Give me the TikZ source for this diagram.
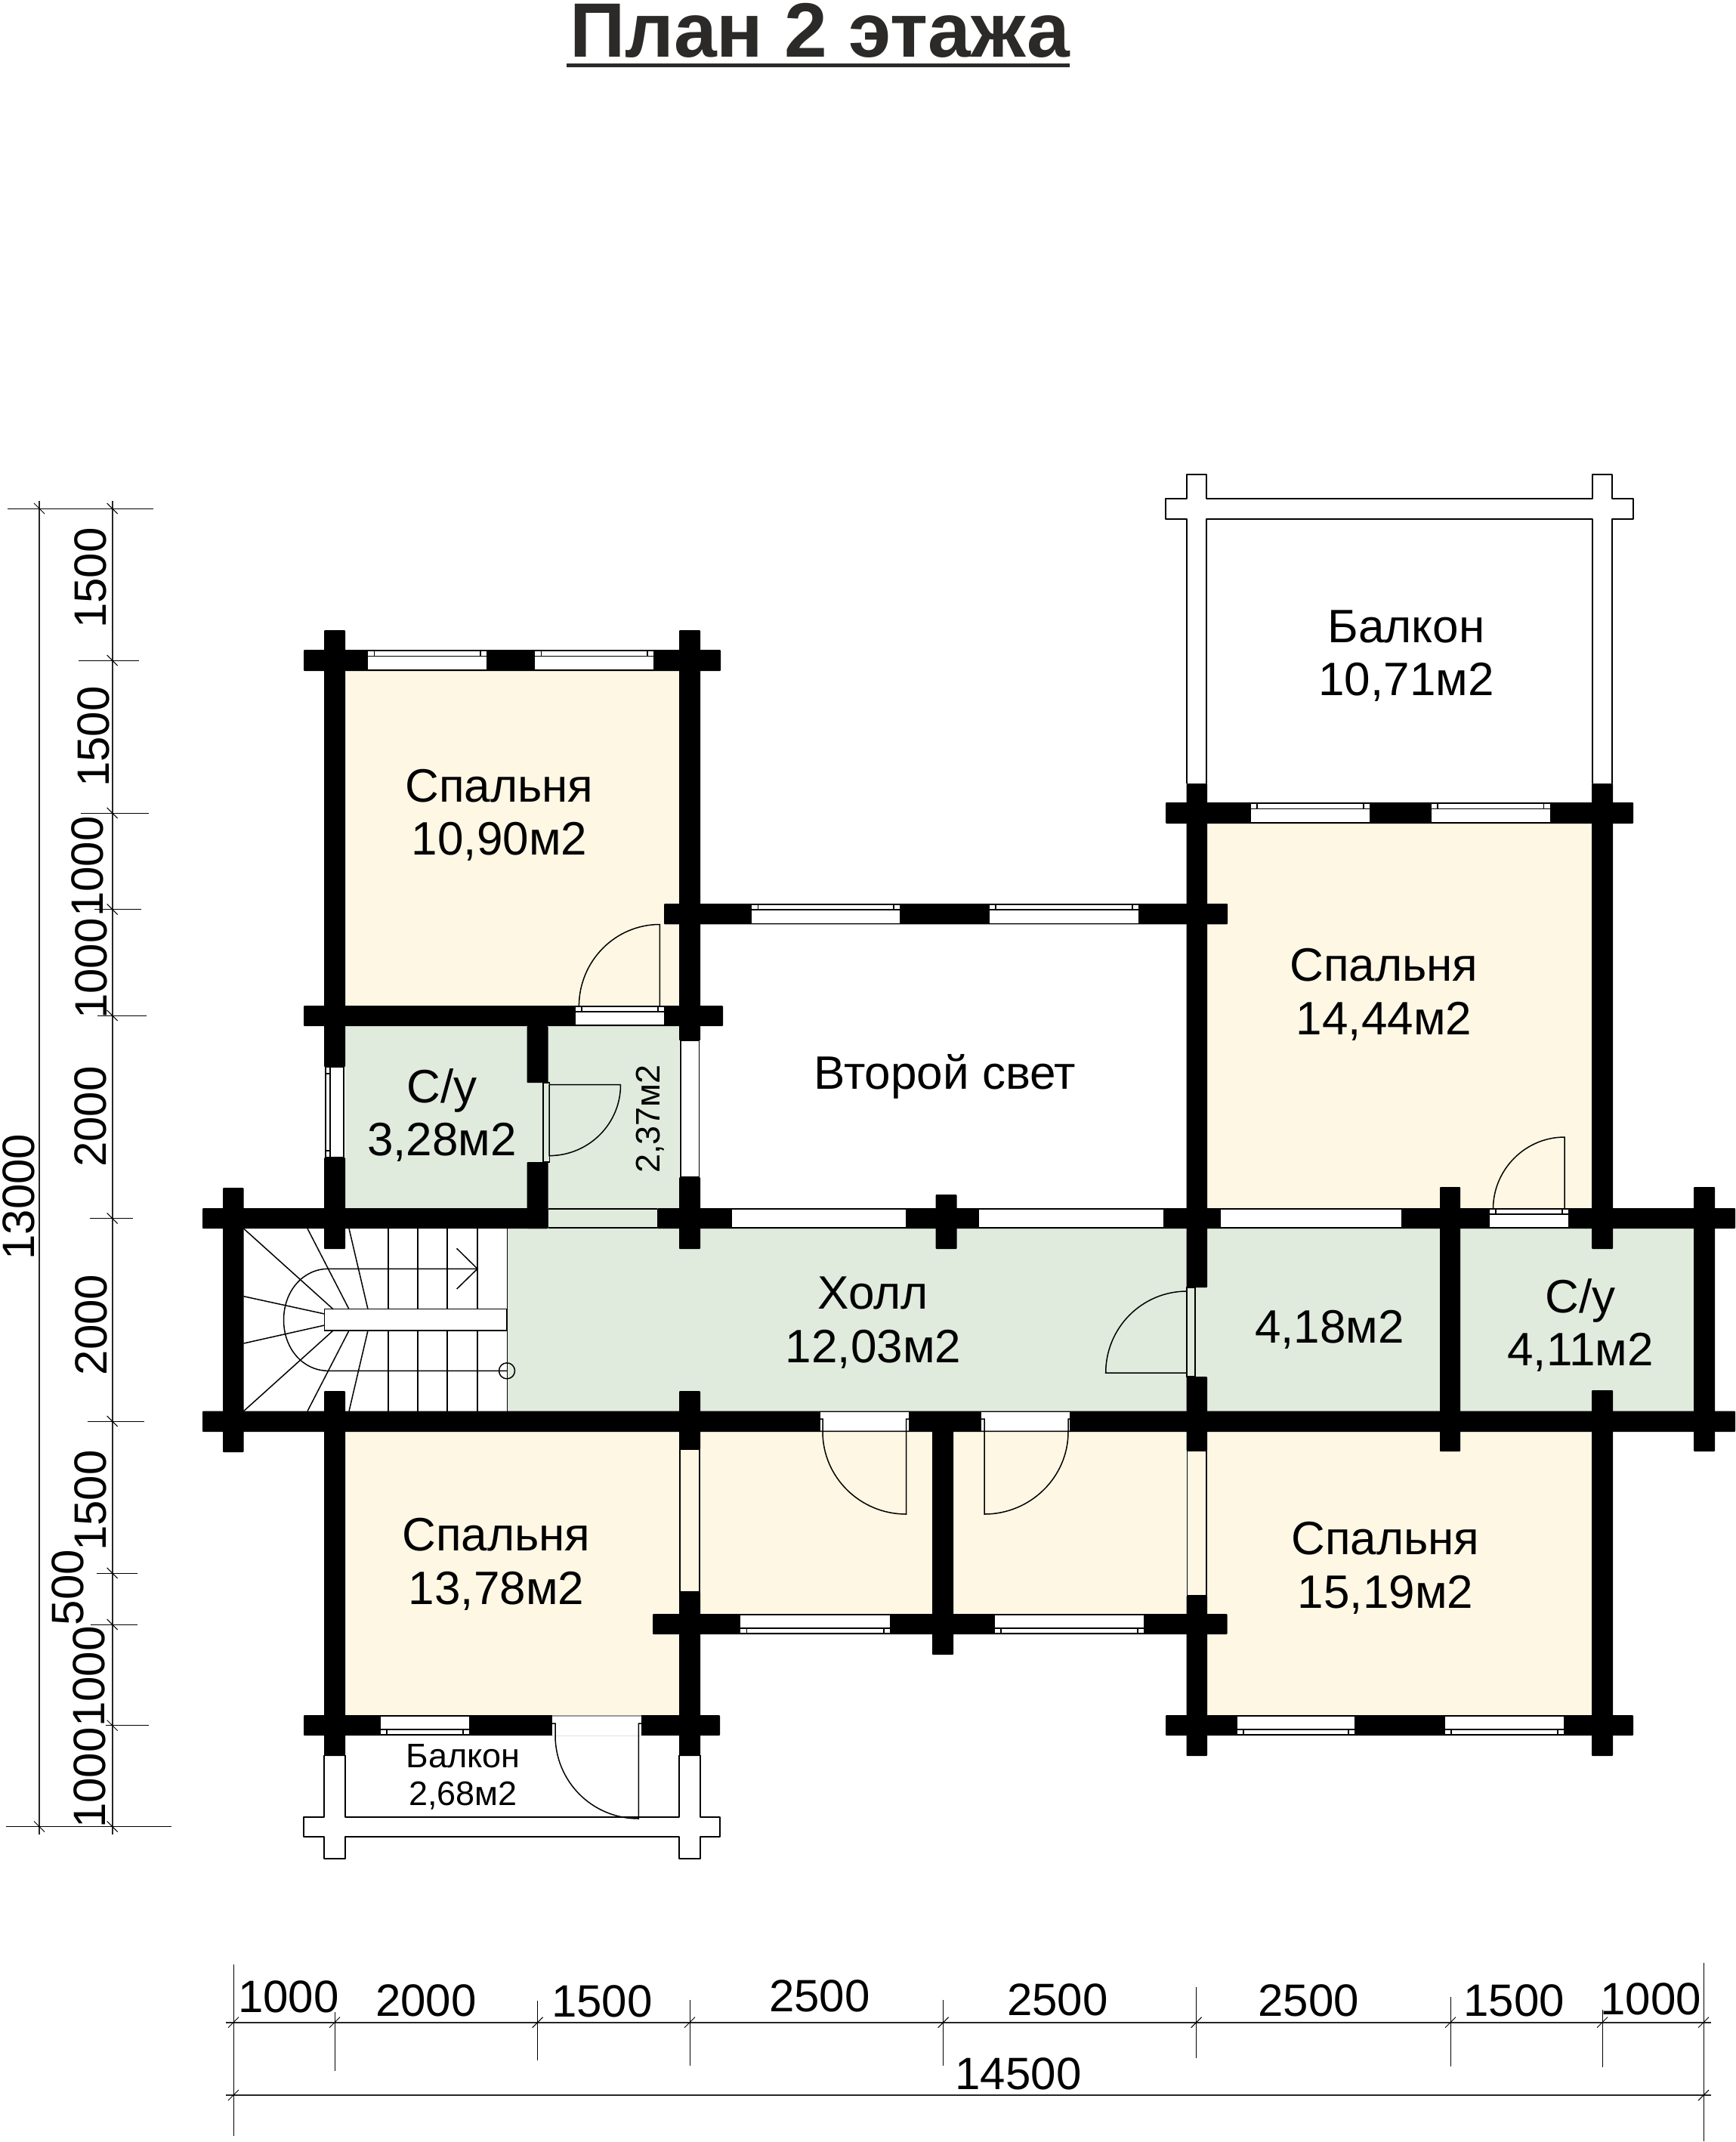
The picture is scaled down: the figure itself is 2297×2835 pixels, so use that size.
\documentclass[tikz,border=0pt]{standalone}
\usepackage{fontspec}
\setmainfont{Liberation Sans}
\usepackage{tikz}
\definecolor{RoomCream}{RGB}{253,247,228}
\definecolor{RoomGreen}{RGB}{224,234,221}
\definecolor{TitleGrey}{RGB}{43,42,41}
\tikzset{
  Wall/.style={fill=black, rounded corners=1pt},
  WinLine/.style={draw=black, line width=1.5pt},
  Outline/.style={draw=black, line width=2pt, line join=round},
  DoorLine/.style={draw=black, line width=1.5pt},
  StairLine/.style={draw=black, line width=1.5pt},
  DimLine/.style={draw=black, line width=1pt},
  DimMain/.style={draw=black!85, line width=1.6pt},
  RoomText/.style={inner sep=0pt, anchor=base, align=center, font=\fontsize{62}{70.5}\selectfont},
  SmallText/.style={inner sep=0pt, anchor=base, align=center, font=\fontsize{45}{50}\selectfont},
  DimText/.style={inner sep=0pt, anchor=base, font=\fontsize{60}{66}\selectfont},
}
\newcommand{\WinH}[4]{
  \filldraw[WinLine, fill=white] (#1,#3) rectangle (#2,#4);
  \draw[WinLine] (#1,{#3+0.28*(#4-#3)}) -- (#2,{#3+0.28*(#4-#3)});
  \draw[WinLine] (#1+9,#3) -- (#1+9,{#3+0.28*(#4-#3)});
  \draw[WinLine] (#2-9,#3) -- (#2-9,{#3+0.28*(#4-#3)});
}
\newcommand{\TickV}[3]{
  \draw[DimLine] (#2,#1) -- (#3,#1);
  \draw[DimLine] (141.7,#1-7) -- (155.7,#1+7);
}
\newcommand{\TickH}[3]{
  \draw[DimLine] (#1,#2) -- (#1,#3);
  \draw[DimLine] (#1-7,2683.7) -- (#1+7,2669.7);
}
\begin{document}
\begin{tikzpicture}[x=1pt,y=-1pt]
\useasboundingbox (0,0) rectangle (2297,2835);

\node[inner sep=0pt, anchor=base, text=TitleGrey, font=\fontsize{102}{110}\selectfont\bfseries] (TITLE) at (1085,75) {План 2 этажа};
\fill[TitleGrey] (750,84) rectangle (1416,89.3);

\fill[RoomCream] (457,888) rectangle (899,1331);
\fill[RoomCream] (1598,1090) rectangle (2107,1599);
\fill[RoomCream] (457,1895) rectangle (899,2270);
\fill[RoomCream] (927,1895) rectangle (1234,2136);
\fill[RoomCream] (1262,1895) rectangle (1570,2136);
\fill[RoomCream] (1598,1895) rectangle (2107,2270);
\fill[RoomGreen] (457,1358) rectangle (899,1599);
\fill[RoomGreen] (725.5,1599) rectangle (870,1626);
\fill[RoomGreen] (671,1626) rectangle (2242,1868);

\draw[Outline] (1597,1037) -- (1597,686.5) -- (2107.6,686.5) -- (2107.6,1037);
\draw[Outline] (1570.5,1037) -- (1570.5,686.5) -- (1543,686.5) -- (1543,660) -- (1570.5,660) -- (1570.5,628) -- (1597,628) -- (1597,660) -- (2107.6,660) -- (2107.6,628) -- (2134,628) -- (2134,660) -- (2162,660) -- (2162,686.5) -- (2134,686.5) -- (2134,1037);
\draw[Outline] (457,2323) -- (457,2405) -- (899.3,2405) -- (899.3,2323);
\draw[Outline] (429,2323) -- (429,2405) -- (402,2405) -- (402,2430.7) -- (429,2430.7) -- (429,2460) -- (457,2460) -- (457,2430.7) -- (899.3,2430.7) -- (899.3,2460) -- (926.5,2460) -- (926.5,2430.7) -- (953,2430.7) -- (953,2405) -- (926.5,2405) -- (926.5,2323);

\fill[Wall] (295,1572) rectangle (322.5,1922);
\fill[Wall] (429,834) rectangle (457,1412);
\fill[Wall] (429,1532) rectangle (457,1653);
\fill[Wall] (429,1841) rectangle (457,2324);
\fill[Wall] (697.5,1358) rectangle (725.5,1433);
\fill[Wall] (697.5,1538) rectangle (725.5,1626);
\fill[Wall] (899,834) rectangle (927,1377);
\fill[Wall] (899,1558) rectangle (927,1653);
\fill[Wall] (899,1841) rectangle (927,1918);
\fill[Wall] (899,2107) rectangle (927,2324);
\fill[Wall] (1238.6,1581) rectangle (1266.5,1653);
\fill[Wall] (1234,1868) rectangle (1262,2190);
\fill[Wall] (1570.5,1037) rectangle (1598,1704);
\fill[Wall] (1570.5,1822) rectangle (1598,1920);
\fill[Wall] (1570.5,2112) rectangle (1598,2324);
\fill[Wall] (1906,1571) rectangle (1933,1921);
\fill[Wall] (2107,1037) rectangle (2135,1653);
\fill[Wall] (2107,1840) rectangle (2135,2324);
\fill[Wall] (2242,1571) rectangle (2270,1921);

\fill[Wall] (402,860) rectangle (954,888);
\fill[Wall] (402,1331) rectangle (957,1358);
\fill[Wall] (879,1196) rectangle (1625,1223.3);
\fill[Wall] (1543,1062) rectangle (2162,1090);
\fill[Wall] (268,1599) rectangle (725.5,1626);
\fill[Wall] (870,1599) rectangle (2297,1626);
\fill[Wall] (268,1867.5) rectangle (2297,1895);
\fill[Wall] (864,2136) rectangle (1624.5,2163);
\fill[Wall] (402,2270) rectangle (953,2297);
\fill[Wall] (1543,2270) rectangle (2162,2297);

\WinH{486.5}{645}{861}{887}
\WinH{707.5}{866}{861}{887}
\WinH{994.3}{1192}{1197}{1222.5}
\WinH{1309}{1508}{1197}{1222.5}
\WinH{1655}{1814}{1063}{1089}
\WinH{1894}{2052.7}{1063}{1089}
\WinH{761}{880}{1332}{1357}
\WinH{1971}{2077}{1600}{1625}
\WinH{979.6}{1179}{2162}{2137}
\WinH{1316}{1515}{2162}{2137}
\WinH{503}{622}{2296}{2271}
\WinH{1637}{1794}{2296}{2271}
\WinH{1912}{2071}{2296}{2271}

\filldraw[WinLine, fill=white] (968,1600) rectangle (1200,1625);
\filldraw[WinLine, fill=white] (1295,1600) rectangle (1540.6,1625);
\filldraw[WinLine, fill=white] (1615,1600) rectangle (1856,1625);
\filldraw[WinLine, fill=white] (431,1412) rectangle (455,1532);
\draw[WinLine] (437,1412) -- (437,1532);
\draw[WinLine] (431,1421) -- (437,1421);
\draw[WinLine] (431,1523) -- (437,1523);
\filldraw[WinLine, fill=white] (901,1377) rectangle (925.5,1558);
\filldraw[WinLine, fill=RoomCream] (900,1918) rectangle (926,2107);
\filldraw[WinLine, fill=RoomCream] (1571.5,1920) rectangle (1597,2112);

\draw[WinLine] (725.5,1600) -- (870,1600);
\draw[WinLine] (725.5,1625) -- (870,1625);

\fill[white] (1085.7,1868.5) rectangle (1203,1893);
\fill[white] (1299,1868.5) rectangle (1416,1893);
\fill[white] (731,2271) rectangle (849,2297);
\draw[black!40, line width=1.5pt] (1085.7,1893.5) -- (1203,1893.5);
\draw[black!40, line width=1.5pt] (1299,1893.5) -- (1416,1893.5);
\draw[black!40, line width=1.5pt] (731,2271) -- (849,2271);

\draw[DoorLine] (766.4,1332) .. controls (766.4,1272) and (814.4,1223.5) .. (873.4,1223.5) -- (873.4,1332);
\draw[DoorLine] (821.5,1435.7) .. controls (821.5,1487.7) and (779,1529.6) .. (727,1529.6) -- (727,1435.7) -- (821.5,1435.7);
\draw[DoorLine] (719,1433) rectangle (727.4,1538);
\draw[DoorLine] (1976.5,1600) .. controls (1976.5,1548) and (2019,1505) .. (2071,1505) -- (2071,1600);
\draw[DoorLine] (1571,1709) .. controls (1512,1709) and (1463.7,1757) .. (1463.7,1817) -- (1571,1817);
\draw[DoorLine] (1571,1704) rectangle (1582,1822);
\draw[DoorLine] (1085.7,1878) -- (1089,1878) -- (1089,1895) .. controls (1089,1955) and (1138.5,2004) .. (1199.5,2004) -- (1199.5,1878) -- (1203,1878);
\draw[DoorLine] (1299,1878) -- (1303,1878) -- (1303,2004) .. controls (1364,2004) and (1414,1955) .. (1414,1895) -- (1414,1878) -- (1416,1878);
\draw[DoorLine] (731,2281) -- (735,2281) -- (735,2297) .. controls (735,2357) and (783,2407) .. (845.4,2407) -- (845.4,2281) -- (849,2281);

\foreach \stepx in {514,553,592,632} {
  \draw[StairLine] (\stepx,1626) -- (\stepx,1732.7);
  \draw[StairLine] (\stepx,1761) -- (\stepx,1867.7);
}
\draw[StairLine] (462,1626) -- (487,1732.7);
\draw[StairLine] (407,1626) -- (462,1732.7);
\draw[StairLine] (322.5,1626) -- (441,1732.7);
\draw[StairLine] (322.5,1715.7) -- (429.6,1739);
\draw[StairLine] (322.5,1778) -- (429.6,1754);
\draw[StairLine] (322.5,1867.7) -- (441,1761);
\draw[StairLine] (407,1867.7) -- (462,1761);
\draw[StairLine] (462,1867.7) -- (487,1761);
\draw[StairLine] (429.6,1732.7) rectangle (671,1761);
\draw[draw=black, line width=1pt] (671,1626) -- (671,1867.7);
\draw[StairLine] (632,1679.3) -- (434.7,1679.3) .. controls (401,1679.3) and (375.5,1709) .. (375.5,1747) .. controls (375.5,1785) and (401,1814.3) .. (434.7,1814.3) -- (671,1814.3);
\draw[StairLine] (604.6,1652.3) -- (632,1679.3) -- (604.6,1706);
\draw[StairLine] (671,1814.3) circle (10.5pt);

\node[RoomText] (BED1) at (661,1131.6) {Спальня\\10,90м2};
\node[RoomText] (BATH1) at (585,1529.6) {С/у\\3,28м2};
\node[SmallText, rotate=90] (BATH1B) at (873.4,1481) {2,37м2};
\node[RoomText] (BALC1) at (1861.6,920.7) {Балкон\\10,71м2};
\node[RoomText] (BED2) at (1832,1369) {Спальня\\14,44м2};
\node[RoomText] (LIGHT) at (1251,1441) {Второй свет};
\node[RoomText] (HALL) at (1156,1803) {Холл\\12,03м2};
\node[RoomText] (HALL2) at (1760,1777.7) {4,18м2};
\node[RoomText] (BATH2) at (2092,1807.6) {С/у\\4,11м2};
\node[RoomText] (BED3) at (657,2123) {Спальня\\13,78м2};
\node[RoomText] (BED4) at (1834,2128) {Спальня\\15,19м2};
\node[SmallText] (BALC2) at (613,2389) {Балкон\\2,68м2};

\draw[DimMain] (52,663) -- (52,2428);
\draw[DimMain] (148.7,663) -- (148.7,2428);
\draw[DimLine] (10,673) -- (202.7,673);
\draw[DimLine] (45,666) -- (59,680);
\draw[DimLine] (141.7,666) -- (155.7,680);
\TickV{874}{104}{184}
\TickV{1076}{106.7}{196.7}
\TickV{1203.5}{125}{187}
\TickV{1344}{129}{193.7}
\TickV{1612.5}{118.7}{175.7}
\TickV{1881}{115.7}{190.7}
\TickV{2082}{127.7}{181.7}
\TickV{2150}{120}{181.7}
\TickV{2283.7}{140}{196.7}
\draw[DimLine] (7.7,2417.5) -- (226.7,2417.5);
\draw[DimLine] (45,2410.5) -- (59,2424.5);
\draw[DimLine] (141.7,2410.5) -- (155.7,2424.5);

\node[DimText, rotate=90] (V1) at (140,765) {1500};
\node[DimText, rotate=90] (V2) at (144,975) {1500};
\node[DimText, rotate=90] (V3) at (136.7,1147) {1000};
\node[DimText, rotate=90] (V4) at (141.7,1282) {1000};
\node[DimText, rotate=90] (V5) at (140,1478) {2000};
\node[DimText, rotate=90] (V6) at (141,1753.5) {2000};
\node[DimText, rotate=90] (V7) at (140,1986) {1500};
\node[DimText, rotate=90] (V8) at (110,2101) {500};
\node[DimText, rotate=90] (V9) at (138,2219) {1000};
\node[DimText, rotate=90] (V10) at (139,2353) {1000};
\node[DimText, rotate=90] (VTOTAL) at (45,1584) {13000};

\draw[DimMain] (299,2676.7) -- (2265,2676.7);
\draw[DimMain] (299,2773) -- (2265,2773);
\draw[DimLine] (309,2600) -- (309,2827);
\draw[DimLine] (302,2683.7) -- (316,2669.7);
\draw[DimLine] (302,2780) -- (316,2766);
\TickH{443}{2663}{2741}
\TickH{711.7}{2648}{2727}
\TickH{913}{2647}{2733.7}
\TickH{1248.6}{2647}{2733.7}
\TickH{1583.6}{2630}{2723.7}
\TickH{1920}{2643}{2735}
\TickH{2121}{2660}{2735.7}
\draw[DimLine] (2255,2597.7) -- (2255,2834);
\draw[DimLine] (2248,2683.7) -- (2262,2669.7);
\draw[DimLine] (2248,2780) -- (2262,2766);

\node[DimText] (H1) at (382,2663) {1000};
\node[DimText] (H2) at (564,2668) {2000};
\node[DimText] (H3) at (797,2669) {1500};
\node[DimText] (H4) at (1085,2662.7) {2500};
\node[DimText] (H5) at (1400,2667) {2500};
\node[DimText] (H6) at (1732,2668) {2500};
\node[DimText] (H7) at (2004,2668) {1500};
\node[DimText] (H8) at (2185,2666) {1000};
\node[DimText] (HTOTAL) at (1348,2765.7) {14500};
\end{tikzpicture}
\end{document}
